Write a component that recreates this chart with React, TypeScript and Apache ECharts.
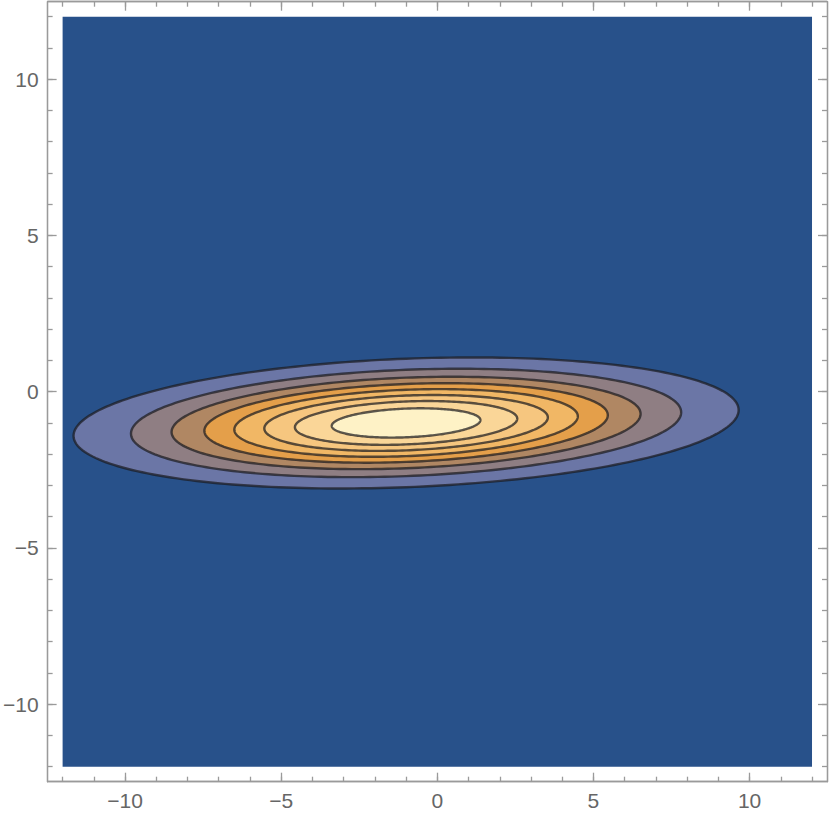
import React, { useEffect, useRef } from "react";
import * as echarts from "echarts";

// Plot region and frame extents (data units)
const fillMin = -12;
const fillMax = 12;
const frameMin = -12.48;
const frameMax = 12.48;

// Tick positions
const majorTicks = [-10, -5, 0, 5, 10];
const minorTicks = [-12, -11, -10, -9, -8, -7, -6, -5, -4, -3, -2, -1, 0, 1, 2, 3, 4, 5, 6, 7, 8, 9, 10, 11, 12];

// Contour geometry: common centre and shape,
// and the half-width (x extent) of each contour, outermost first.
const contourCenterX = -1.0;
const contourCenterY = -1.0;
const shapeVarX = 25.8;
const shapeVarY = 1.0;
const shapeCovXY = 1.0;
const contourHalfWidths = [10.65, 8.81, 7.51, 6.46, 5.5, 4.54, 3.56, 2.38];

// Band colours: background, then the region inside each contour
const backgroundColor = "#28518a";
const bandColors = ["#6b76a6", "#8f7e83", "#b08763", "#e49f4a", "#f1b765", "#f6c67f", "#fad698", "#fef2c6"];

const fmt = (v: number) => (v < 0 ? "\u2212" + Math.abs(v) : String(v));

export default function App() {
  const ref = useRef<HTMLDivElement>(null);
  useEffect(() => {
    if (!ref.current) return;
    const chart = echarts.init(ref.current, null, { renderer: "svg" });
    const a = Math.sqrt(shapeVarX);
    const b = shapeCovXY / a;
    const c = Math.sqrt(shapeVarY - b * b);
    const N = 240;

    const axisColor = "#9a9a9a";
    const labelStyle = { color: "#666666", fontSize: 21, fontFamily: "Liberation Sans, Arial, sans-serif" };

    const mkX = (pos: "bottom" | "top", values: number[], len: number, labels: boolean) => ({
      type: "value",
      position: pos,
      min: frameMin,
      max: frameMax,
      axisLine: { show: true, onZero: false, lineStyle: { color: axisColor, width: 1.3 } },
      axisTick: { show: true, inside: true, length: len, customValues: values, lineStyle: { color: axisColor, width: 1.3 } },
      axisLabel: labels
        ? { show: true, customValues: majorTicks, formatter: fmt, margin: 8, ...labelStyle }
        : { show: false },
      splitLine: { show: false },
    });
    const mkY = (pos: "left" | "right", values: number[], len: number, labels: boolean) => ({
      type: "value",
      position: pos,
      min: frameMin,
      max: frameMax,
      axisLine: { show: true, onZero: false, lineStyle: { color: axisColor, width: 1.3 } },
      axisTick: { show: true, inside: true, length: len, customValues: values, lineStyle: { color: axisColor, width: 1.3 } },
      axisLabel: labels
        ? { show: true, customValues: majorTicks, formatter: fmt, margin: 9, ...labelStyle }
        : { show: false },
      splitLine: { show: false },
    });

    chart.setOption({
      animation: false,
      backgroundColor: "#ffffff",
      grid: { left: 46, right: 3, top: 1.7, bottom: 39.3, containLabel: false },
      xAxis: [
        mkX("bottom", majorTicks, 9, true),
        mkX("bottom", minorTicks, 5, false),
        mkX("top", majorTicks, 9, false),
        mkX("top", minorTicks, 5, false),
      ],
      yAxis: [
        mkY("left", majorTicks, 9, true),
        mkY("left", minorTicks, 5, false),
        mkY("right", majorTicks, 9, false),
        mkY("right", minorTicks, 5, false),
      ],
      series: [
        {
          type: "custom",
          xAxisIndex: 0,
          yAxisIndex: 0,
          silent: true,
          data: [[fillMin, fillMin, fillMax, fillMax]],
          renderItem: (params: any, api: any) => {
            const p0 = api.coord([api.value(0), api.value(3)]);
            const p1 = api.coord([api.value(2), api.value(1)]);
            return {
              type: "rect",
              shape: { x: p0[0], y: p0[1], width: p1[0] - p0[0], height: p1[1] - p0[1] },
              style: { fill: backgroundColor },
            };
          },
        },
        {
          type: "custom",
          xAxisIndex: 0,
          yAxisIndex: 0,
          silent: true,
          clip: true,
          data: contourHalfWidths.map((hw, i) => [contourCenterX, contourCenterY, hw, i]),
          renderItem: (params: any, api: any) => {
            const cx = api.value(0);
            const cy = api.value(1);
            const hw = api.value(2);
            const idx = api.value(3);
            const r = hw / a;
            const pts: number[][] = [];
            for (let k = 0; k < N; k++) {
              const t = (2 * Math.PI * k) / N;
              const x = cx + r * a * Math.cos(t);
              const y = cy + r * (b * Math.cos(t) + c * Math.sin(t));
              pts.push(api.coord([x, y]));
            }
            return {
              type: "polygon",
              shape: { points: pts },
              style: { fill: bandColors[idx], stroke: "rgba(28,28,32,0.72)", lineWidth: 2.4 },
            };
          },
        },
      ],
    });
    return () => chart.dispose();
  }, []);
  return <div ref={ref} style={{ position: "fixed", left: 0, top: 0, width: 830, height: 821 }} />;
}
